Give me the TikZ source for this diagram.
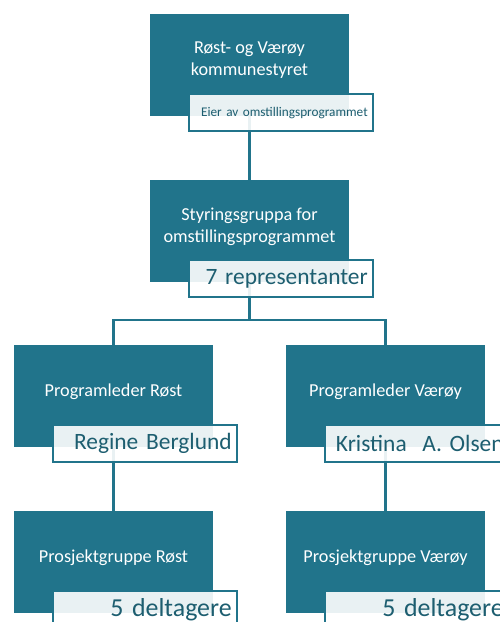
\documentclass[tikz,border=0pt]{standalone}
\usepackage{fontspec}
\setmainfont{Carlito}
\usetikzlibrary{%
  calc,positioning}
\definecolor{progteal}{HTML}{21748B}
\definecolor{labelink}{HTML}{1D5E70}
\tikzset{
  orgbox/.style={fill=progteal,minimum width=199bp,
    minimum height=102bp,inner sep=0pt},
  orgtext/.style={text=white,align=center,yshift=4.5bp,
    font=\fontsize{18.3}{22}\selectfont},
  orglabel/.style={draw=progteal,line width=1.8bp,fill=white,
    fill opacity=0.9,text opacity=1,text=labelink,
    anchor=north west,minimum width=184bp,minimum height=37bp,
    inner xsep=5bp,inner ysep=0pt,text width=174bp,align=right},
  orglink/.style={draw=progteal,line width=2.5bp}
}

\begin{document}
\begin{tikzpicture}[x=1bp,y=-1bp]
\useasboundingbox (0,0) rectangle (500,622);
\clip (0,0) rectangle (500,622);
% boxes
\node[orgbox] (b1) at (249.5,65) {};
\node[orgbox] (b2) at (249.5,231) {};
\node[orgbox] (b3) at (113.5,396) {};
\node[orgbox] (b4) at (385.5,396) {};
\node[orgbox] (b5) at (113.5,562) {};
\node[orgbox] (b6) at (385.5,562) {};
% connectors
\coordinate (fork) at (249.5,320);
\draw[orglink] (b1.south) -- (b2.north);
\draw[orglink] (b2.south) -- (fork) -| (b3.north);
\draw[orglink] (fork) -| (b4.north);
\draw[orglink] (b3.south) -- (b5.north);
\draw[orglink] (b4.south) -- (b6.north);
% labels
\node[orglabel,font=\fontsize{13.3}{16}\selectfont] (l1)
  at ($(b1.south west)+(38,-23)$) {Eier av omstillingsprogrammet};
\node[orglabel,font=\fontsize{23.5}{28}\selectfont] (l2)
  at ($(b2.south west)+(38,-23)$) {7 representanter};
\node[orglabel,font=\fontsize{23.5}{28}\selectfont] (l3)
  at ($(b3.south west)+(38,-23)$) {Regine Berglund};
\node[orglabel,font=\fontsize{23.5}{28}\selectfont] (l4)
  at ($(b4.south west)+(38,-23)$) {Kristina\ \ A. Olsen};
\node[orglabel,font=\fontsize{26}{30}\selectfont] (l5)
  at ($(b5.south west)+(38,-23)$) {5 deltagere};
\node[orglabel,font=\fontsize{26}{30}\selectfont] (l6)
  at ($(b6.south west)+(38,-23)$) {5 deltagere};
% box texts
\node[orgtext] (t1) at (b1.center) {Røst- og Værøy\\kommunestyret};
\node[orgtext] (t2) at (b2.center) {Styringsgruppa for\\omstillingsprogrammet};
\node[orgtext] (t3) at (b3.center) {Programleder Røst};
\node[orgtext] (t4) at (b4.center) {Programleder Værøy};
\node[orgtext] (t5) at (b5.center) {Prosjektgruppe Røst};
\node[orgtext] (t6) at (b6.center) {Prosjektgruppe Værøy};
\end{tikzpicture}
\end{document}
